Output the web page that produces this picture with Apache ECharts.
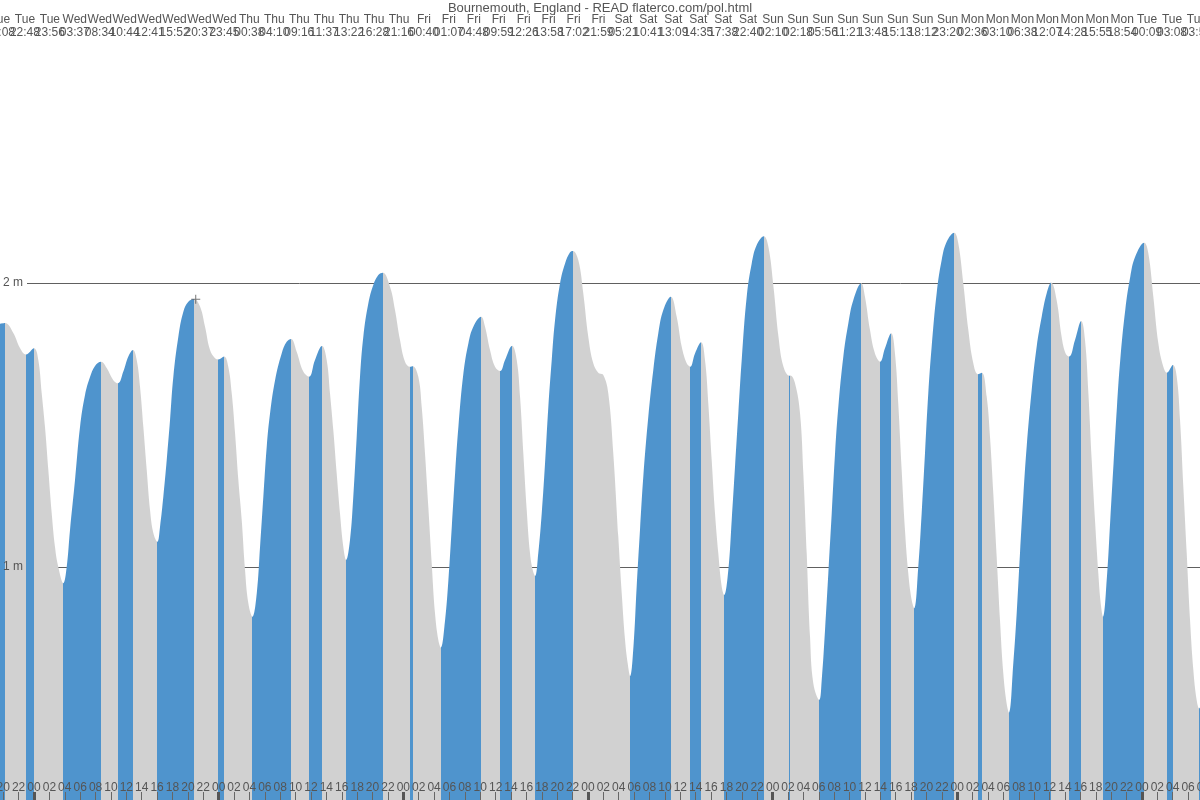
<!DOCTYPE html>
<html><head><meta charset="utf-8">
<script src="https://cdn.jsdelivr.net/npm/echarts@6/dist/echarts.min.js"></script>
<style>html,body{margin:0;padding:0;background:#fff}#c{width:1200px;height:800px}</style>
</head><body><div id="c"></div>
<script>
const titleText = 'Bournemouth, England - READ flaterco.com/pol.html';

// Extrema (hours since Wednesday 00:00, metres) and their listed labels
const extremaDay = ['Tue','Tue','Tue','Wed','Wed','Wed','Wed','Wed','Wed','Wed','Thu','Thu','Thu','Thu','Thu','Thu','Thu',
  'Fri','Fri','Fri','Fri','Fri','Fri','Fri','Fri','Sat','Sat','Sat','Sat','Sat','Sat','Sun','Sun','Sun','Sun','Sun','Sun','Sun','Sun',
  'Mon','Mon','Mon','Mon','Mon','Mon','Mon','Tue','Tue','Tue','Tue'];
const extremaClock = ['20:08','22:48','23:56','03:37','08:34','10:44','12:41','15:52','20:37','23:45','00:38','04:10','09:16','11:37','13:22','16:28','21:16',
  '00:40','01:07','04:48','09:59','12:26','13:58','17:02','21:59','05:21','10:41','13:09','14:35','17:38','22:40','02:10','02:18','05:56','11:21','13:48','15:13','18:12','23:20',
  '02:36','03:10','06:38','12:07','14:28','15:55','18:54','00:09','03:08','03:55','07:27'];
const extremaKind = ['H','L','H','L','H','L','H','L','H','L','H','L','H','L','H','L','H','L','H','L','H','L','H','L','H',
  'L','H','L','H','L','H','L','H','L','H','L','H','L','H','L','H','L','H','L','H','L','H','L','H','L'];
const extremaHour = [-3.77,-1.04,0.0,3.81,8.71,10.92,12.87,16.03,20.8,23.96,24.7,28.38,33.41,35.75,37.44,40.56,45.33,
  48.88,49.23,52.87,58.11,60.58,62.14,65.13,70.03,77.48,82.77,85.28,86.71,89.7,94.86,98.19,98.32,102.05,107.51,109.98,111.41,114.4,119.6,
  122.68,123.2,126.71,132.21,134.55,136.11,138.93,144.3,147.25,148.03,151.45];
const extremaMetres = [1.859,1.748,1.770,0.943,1.723,1.647,1.764,1.089,1.944,1.731,1.741,0.825,1.803,1.670,1.778,1.025,2.036,
  1.705,1.707,0.716,1.881,1.690,1.779,0.968,2.113,0.616,1.952,1.705,1.791,0.901,2.165,1.673,1.674,0.532,1.999,1.723,1.823,0.855,2.177,
  1.679,1.684,0.487,2.002,1.741,1.866,0.825,2.142,1.684,1.711,0.502];

// Curve points between extrema [hour, metres]
const tueEvening = [[-4.42,1.856],[-2.69,1.824],[-1.82,1.771]];
const wednesday = [[0.56,1.729],[1.00,1.613],[1.43,1.493],[1.86,1.342],[2.30,1.190],[2.73,1.070],[3.16,1.000],
  [4.25,1.000],[4.68,1.130],[5.33,1.306],[5.98,1.493],[6.63,1.606],[7.28,1.669],[7.93,1.708],
  [9.45,1.701],[10.31,1.658],[11.61,1.688],[12.26,1.741],
  [13.35,1.729],[13.78,1.635],[14.21,1.494],[14.65,1.342],[15.08,1.201],[15.51,1.120],
  [16.38,1.142],[16.81,1.248],[17.25,1.377],[17.68,1.518],[18.11,1.670],[18.76,1.811],[19.41,1.899],[20.06,1.934],
  [21.58,1.917],[22.23,1.846],[22.88,1.764],[23.53,1.735]];
const thursday = [[25.25,1.705],[25.70,1.612],[26.13,1.472],[26.56,1.306],[27.00,1.165],[27.43,0.989],[27.86,0.872],
  [28.95,0.907],[29.38,1.071],[29.81,1.248],[30.25,1.424],[30.68,1.541],[31.33,1.658],[32.19,1.752],[32.84,1.793],
  [34.14,1.758],[35.00,1.688],[36.52,1.729],
  [38.04,1.729],[38.47,1.612],[38.90,1.482],[39.34,1.330],[39.77,1.189],[40.20,1.071],
  [41.07,1.095],[41.50,1.248],[41.94,1.459],[42.37,1.670],[42.80,1.811],[43.45,1.928],[44.10,1.993],[44.75,2.028],
  [46.27,1.987],[46.92,1.905],[47.57,1.799]];
const friday = [[48.22,1.723],
  [49.95,1.670],[50.39,1.564],[50.82,1.400],[51.25,1.212],[51.69,1.013],[52.12,0.837],[52.55,0.743],
  [53.43,0.813],[53.86,0.954],[54.30,1.142],[54.73,1.330],[55.16,1.494],[55.81,1.682],[56.46,1.788],[57.10,1.846],
  [58.62,1.846],[59.27,1.764],[59.92,1.705],[61.22,1.729],
  [62.74,1.729],[63.17,1.600],[63.60,1.400],[64.04,1.201],[64.47,1.048],[64.82,0.989],
  [65.54,1.048],[65.99,1.189],[66.42,1.365],[66.85,1.564],[67.29,1.729],[67.72,1.870],[68.37,1.999],[69.02,2.069],[69.67,2.108],
  [70.74,2.081],[71.39,1.964]];
const saturday = [[72.04,1.811],[72.69,1.717],[73.34,1.684],[73.99,1.676],[74.64,1.612],[75.29,1.400],[75.94,1.107],[76.39,0.907],[76.82,0.743],[77.16,0.661],
  [77.91,0.719],[78.33,0.931],[78.76,1.130],[79.19,1.318],[79.84,1.529],[80.49,1.694],[81.14,1.823],[81.79,1.905],
  [83.53,1.881],[84.18,1.776],[84.83,1.717],[85.91,1.752],
  [87.21,1.729],[87.64,1.576],[88.08,1.377],[88.51,1.189],[88.94,1.048],[89.38,0.931],
  [90.24,0.989],[90.68,1.165],[91.11,1.353],[91.54,1.541],[91.98,1.729],[92.63,1.952],[93.28,2.069],[93.93,2.134],
  [95.45,2.128]];
const sunday = [[96.11,1.987],[96.76,1.811],[97.41,1.705],
  [98.91,1.647],[99.56,1.541],[99.99,1.330],[100.43,1.048],[100.86,0.755],[101.29,0.590],
  [102.38,0.602],[102.81,0.778],[103.24,0.978],[103.68,1.189],[104.11,1.400],[104.54,1.564],[105.19,1.741],[105.84,1.858],[106.49,1.940],
  [108.0,1.952],[108.65,1.835],[109.30,1.752],[110.6,1.770],
  [111.9,1.752],[112.33,1.576],[112.77,1.342],[113.2,1.130],[113.63,0.978],[114.07,0.884],
  [114.93,1.001],[115.37,1.189],[115.8,1.400],[116.23,1.612],[116.67,1.776],[117.32,1.964],[117.97,2.081],[118.62,2.145]];
const monday = [[120.13,2.140],[120.78,1.999],[121.43,1.835],[122.08,1.717],
  [123.82,1.600],[124.25,1.459],[124.68,1.259],[125.12,1.036],[125.55,0.813],[125.98,0.626],[126.41,0.520],
  [127.28,0.661],[127.72,0.837],[128.15,1.048],[128.58,1.248],[129.02,1.424],[129.67,1.623],[130.32,1.776],[130.97,1.881],[131.62,1.964],
  [132.91,1.940],[133.56,1.811],[134.08,1.752],[135.3,1.799],
  [136.6,1.799],[137.04,1.612],[137.47,1.377],[137.9,1.165],[138.33,0.978],[138.64,0.872],
  [139.45,0.966],[139.88,1.165],[140.31,1.365],[140.75,1.564],[141.18,1.729],[141.83,1.905],[142.48,2.022],[143.13,2.093]];
const tuesdayMorning = [[144.83,2.105],[145.48,1.952],[146.13,1.788],[146.78,1.705],
  [148.52,1.670],[148.95,1.518],[149.38,1.283],[149.82,1.048],[150.25,0.813],[150.68,0.637],[151.11,0.532],[151.6,0.51]];

const markerPoint = [21.02, 1.943];
const hourAxisMin = -24, hourAxisMax = 152, hourStep = 2, dayStep = 24;
const levelMin = 0, levelMax = 3, levelStep = 1;

const FLOOD = '#4f94cd', EBB = '#d1d1d1', INK = '#555555', FONT = "'Liberation Sans', Arial, sans-serif";

const curve = extremaHour.map((t, i) => [t, extremaMetres[i]])
  .concat(tueEvening, wednesday, thursday, friday, saturday, sunday, monday, tuesdayMorning)
  .sort((a, b) => a[0] - b[0]);

const pieces = [];
if (extremaKind[0] === 'H') pieces.push({ lt: extremaHour[0], color: FLOOD });
extremaKind.forEach((k, i) => {
  if (k !== 'L') return;
  const next = extremaHour[i + 1];
  pieces.push(next === undefined ? { gte: extremaHour[i], color: FLOOD } : { gte: extremaHour[i], lt: next, color: FLOOD });
});
const topLabels = extremaDay.map((d, i) => d + '\n' + extremaClock[i]);

const chart = echarts.init(document.getElementById('c'), null, { renderer: 'canvas' });
chart.setOption({
  animation: false,
  backgroundColor: '#ffffff',
  title: { text: titleText, left: 'center', top: 0, padding: [2, 0, 0, 0],
    textStyle: { fontSize: 13, fontWeight: 'normal', color: INK, fontFamily: FONT } },
  grid: [
    { left: -150.66, right: -3.5, top: -1, bottom: -51, containLabel: false, outerBoundsMode: 'none' },
    { left: 0, right: -21.9, top: 44.5, height: 10, containLabel: false, outerBoundsMode: 'none' }
  ],
  visualMap: { type: 'piecewise', show: false, dimension: 0, seriesIndex: 0, pieces: pieces, outOfRange: { color: EBB } },
  xAxis: [
    { type: 'value', gridIndex: 0, min: hourAxisMin, max: hourAxisMax, interval: hourStep, position: 'bottom', offset: -51, z: 10,
      axisLine: { show: false }, splitLine: { show: false },
      axisTick: { show: true, inside: true, length: 8, lineStyle: { color: '#666', width: 1 } },
      axisLabel: { show: true, inside: true, margin: 6.5, color: INK, fontSize: 12, fontFamily: FONT, hideOverlap: false,
        showMinLabel: true, showMaxLabel: true,
        formatter: v => String(((Math.round(v) % 24) + 24) % 24).padStart(2, '0') } },
    { type: 'value', gridIndex: 0, min: hourAxisMin, max: hourAxisMax, interval: dayStep, position: 'bottom', offset: -51, z: 11,
      axisLine: { show: false }, splitLine: { show: false }, axisLabel: { show: false },
      axisTick: { show: true, inside: true, length: 8, lineStyle: { color: '#555', width: 3 } } },
    { type: 'category', gridIndex: 1, data: topLabels, boundaryGap: false, position: 'top',
      axisLine: { show: false }, axisTick: { show: false }, splitLine: { show: false },
      axisLabel: { interval: 0, margin: 5.5, color: INK, fontSize: 12, lineHeight: 13, fontFamily: FONT, hideOverlap: false } }
  ],
  yAxis: [
    { type: 'value', gridIndex: 0, min: levelMin, max: levelMax, interval: levelStep, z: 0,
      axisLine: { show: false }, axisTick: { show: false }, axisLabel: { show: false },
      splitLine: { show: true, lineStyle: { color: '#606060', width: 1 } } },
    { type: 'value', gridIndex: 0, min: levelMin, max: levelMax, interval: levelStep, position: 'left', offset: -150.66, z: 10,
      axisLine: { show: false }, axisTick: { show: false }, splitLine: { show: false },
      axisLabel: { inside: true, margin: 0, fontFamily: FONT,
        formatter: v => v === 2 ? '{w|2 m}' : (v === 1 ? '{n|1 m}' : ''),
        rich: { w: { backgroundColor: '#ffffff', padding: [2, 4, 2, 3], color: INK, fontSize: 12, fontFamily: FONT },
                n: { padding: [2, 4, 2, 3], color: INK, fontSize: 12, fontFamily: FONT } } } },
    { type: 'value', gridIndex: 1, show: false }
  ],
  series: [
    { type: 'line', xAxisIndex: 0, yAxisIndex: 0, data: curve, smooth: 0.4, symbol: 'none', showSymbol: false,
      lineStyle: { width: 0 }, areaStyle: { opacity: 1 }, silent: true, z: 2 },
    { type: 'scatter', xAxisIndex: 0, yAxisIndex: 0, data: [markerPoint], symbol: 'path://M4,0h1v4h4v1h-4v4h-1v-4h-4v-1h4z',
      symbolSize: 9, itemStyle: { color: INK }, silent: true, z: 5 }
  ]
});
</script></body></html>
